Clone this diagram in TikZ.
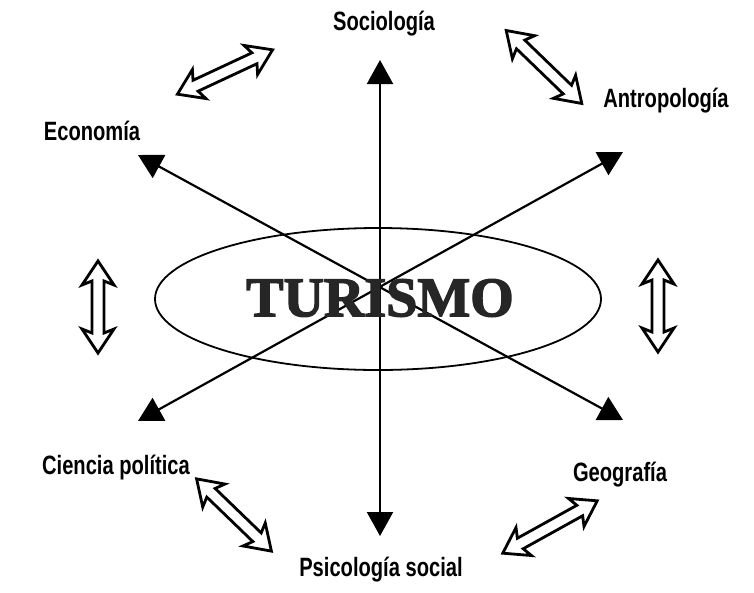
\documentclass[tikz,border=0pt]{standalone}
\usepackage{fontspec}
\setmainfont{Liberation Sans}
\newfontfamily\labfont[FakeStretch=0.76]{Liberation Sans Bold}
\newfontfamily\titfont[FakeBold=2.5]{Liberation Serif Bold}
\usetikzlibrary{arrows.meta,shapes.geometric}
\begin{document}
\begin{tikzpicture}[x=1pt,y=-1pt,
  lab/.style={font=\labfont\fontsize{26.5}{28}\selectfont, inner sep=0pt},
  conn/.style={line width=2.2pt, {Triangle[width=26pt,length=24pt]}-{Triangle[width=26pt,length=24pt]}},
  pics/dbl/.style={code={
    \draw[line width=2.8pt, line join=miter, fill=white]
      (-#1/2,0) -- (-#1/2+24,-16) -- (-#1/2+20,-6) -- (#1/2-20,-6) -- (#1/2-24,-16)
      -- (#1/2,0) -- (#1/2-24,16) -- (#1/2-20,6) -- (-#1/2+20,6) -- (-#1/2+24,16) -- cycle;
  }}]
\useasboundingbox (0,0) rectangle (754,592);
% ellipse
\node[draw, line width=1.8pt, ellipse, minimum width=446pt, minimum height=142pt, inner sep=0pt] (ell) at (378,299) {};
% connectors
\coordinate (soc) at (380,60);
\coordinate (psi) at (380,536);
\coordinate (eco) at (138,155);
\coordinate (geo) at (623,420);
\coordinate (ant) at (623,152);
\coordinate (cie) at (138,421);
\draw[conn] (soc) -- (psi);
\draw[conn] (eco) -- (geo);
\draw[conn] (ant) -- (cie);
\node[font=\titfont\fontsize{56}{60}\selectfont, inner sep=0pt, text=black!85] (tur) at (380,298) {TURISMO};
% labels
\node[lab] (lsoc) at (384,24) {Sociología};
\node[lab] (leco) at (92,131) {Economía};
\node[lab] (lant) at (666,101) {Antropología};
\node[lab] (lcie) at (116,468) {Ciencia política};
\node[lab] (lgeo) at (620,475) {Geografía};
\node[lab] (lpsi) at (381,570) {Psicología social};
% hollow double arrows
\pic[rotate=25] at (225,72) {dbl=105};
\pic[rotate=-44] at (544,67) {dbl=105};
\pic[rotate=90] at (98,307) {dbl=92};
\pic[rotate=90] at (658,306) {dbl=92};
\pic[rotate=-44] at (234,515) {dbl=104};
\pic[rotate=29] at (550,527) {dbl=108};
\end{tikzpicture}
\end{document}
